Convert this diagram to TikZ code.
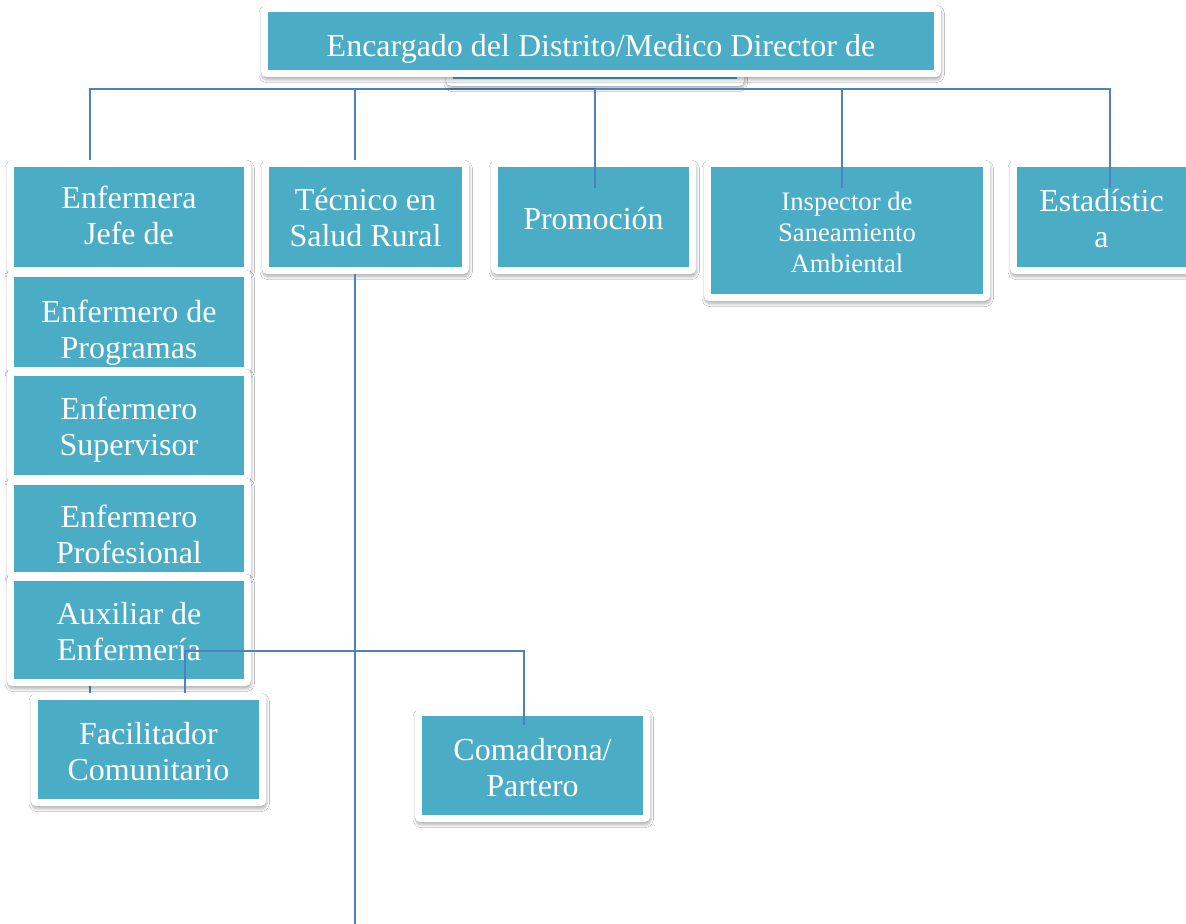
\documentclass[tikz,border=0pt]{standalone}
\usepackage{fontspec}
\setmainfont{Liberation Serif}
\usetikzlibrary{calc,shadows.blur}
\pgfdeclarelayer{back}
\pgfsetlayers{back,main}
\definecolor{tealfill}{HTML}{4BACC6}
\definecolor{linecol}{HTML}{4F81BD}
\tikzset{
 obframe/.style={fill=white, rounded corners=4pt, blur shadow={shadow xshift=0.5pt, shadow yshift=-2.2pt, shadow blur radius=2pt, shadow blur steps=10, shadow opacity=30}},
 tealbox/.style={fill=tealfill, draw=none, inner sep=0pt, outer sep=0pt},
 btext/.style={text=white, align=center, inner sep=0pt, font=\fontsize{24}{27}\selectfont},
 stext/.style={text=white, align=center, inner sep=0pt, font=\fontsize{20}{23.2}\selectfont},
 conn/.style={draw=linecol, line width=1.5pt},
}
% #1 text shift down (px), #2 name, #3-#6 teal box x1,y1,x2,y2 (px), #7 text style, #8 text
\newcommand\obox[8][0]{%
 \fill[obframe] ({#3-7},{#4-7}) rectangle ({#5+7},{#6+7});
 \node[tealbox, minimum width={(#5-#3)*0.75pt}, minimum height={(#6-#4)*0.75pt},
   label={[#7, yshift={-(#1)*0.75pt}]center:{#8}}] (#2) at ({(#3+#5)/2},{(#4+#6)/2}) {};
}
\begin{document}
\begin{tikzpicture}[x=0.75pt,y=-0.75pt]
\useasboundingbox (0,0) rectangle (1186,924);
\obox[0]{top2}{453}{45}{737}{79}{btext}{}
\obox[8]{top}{268}{12}{934}{70}{btext}{Encargado del Distrito/Medico Director de}
\obox[-2]{enf}{14}{167}{244}{267}{btext}{Enfermera\\Jefe de}
\obox[1]{tec}{269}{167}{462}{267}{btext}{Técnico en\\Salud Rural}
\obox[1.5]{promo}{498}{167}{689}{267}{btext}{Promoción}
\obox[1.5]{insp}{711}{167}{983}{294}{stext}{Inspector de\\Saneamiento\\Ambiental}
\obox[2]{est}{1017}{167}{1186}{267}{btext}{Estadístic\\a}
\obox[11]{prog}{14}{277}{244}{367}{btext}{Enfermero de\\Programas}
\obox[4]{sup}{14}{376}{244}{475}{btext}{Enfermero\\Supervisor}
\obox[6]{prof}{14}{485}{244}{572}{btext}{Enfermero\\Profesional}
\obox[2]{aux}{14}{581}{244}{679}{btext}{Auxiliar de\\Enfermería}
\obox[2]{fac}{38}{700}{259}{799}{btext}{Facilitador\\Comunitario}
\obox[2]{com}{422}{716}{643}{815}{btext}{Comadrona/\\Partero}
\coordinate (tecend) at (355,924);
\begin{pgfonlayer}{back}
\fill[white] (0,0) rectangle (1186,924);
\draw[conn] ($(top2.south)+(0,10)$) -| ($(fac.north west)+(52,-7)$);
\draw[conn] ($(top2.south)+(0,10)$) -| ($(tec.north west)+(86,0)$);
\end{pgfonlayer}
\draw[conn] ($(top2.south)+(0,10)$) -- ($(top2.south |- promo.north)+(0,21)$);
\draw[conn] ($(top2.south)+(0,10)$) -| ($(insp.north west)+(131,21)$);
\draw[conn] ($(top2.south)+(0,10)$) -| ($(est.north west)+(93,21)$);
\draw[conn] ($(tec.south west)+(86,7)$) -- (tecend);
\draw[conn] ($(fac.north west)+(147,-7)$) |- ($(com.north west)+(102,-65)$) -- ($(com.north west)+(102,9)$);
\end{tikzpicture}
\end{document}
